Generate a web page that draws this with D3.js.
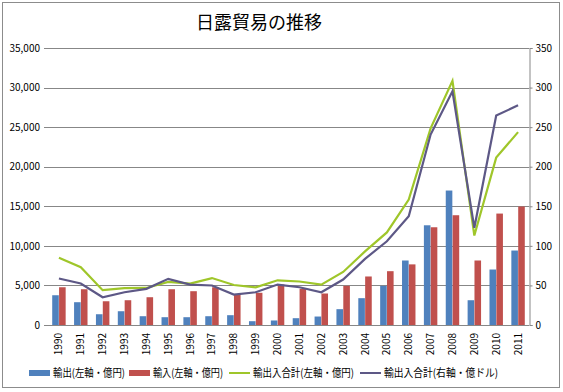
<!DOCTYPE html>
<html>
<head>
<meta charset="utf-8">
<script src="https://cdn.jsdelivr.net/npm/d3@7"></script>
<style>
  body { margin: 0; background: #fff; }
  text { font-family: "Noto Sans CJK JP", "DejaVu Sans", sans-serif; fill: #000; }
</style>
</head>
<body>
<div id="chart"></div>
<script>
// values
var years = ["1990","1991","1992","1993","1994","1995","1996","1997","1998","1999","2000",
             "2001","2002","2003","2004","2005","2006","2007","2008","2009","2010","2011"];
var exportsYen = [3760, 2880, 1360, 1740, 1110, 985, 985, 1110, 1240, 480, 570,
                  860, 1070, 2000, 3390, 4950, 8150, 12600, 16990, 3130, 7010, 9410];
var importsYen = [4770, 4520, 3000, 3130, 3510, 4520, 4270, 4770, 3850, 4070, 5120,
                  4570, 3980, 4950, 6130, 6800, 7660, 12350, 13870, 8150, 14080, 14970];
var totalYen = [8490, 7300, 4400, 4650, 4680, 5450, 5220, 5930, 5050, 4750, 5650,
                5500, 5100, 6700, 9300, 11700, 15850, 24850, 30850, 11300, 21150, 24370];
var totalUsd = [58.7, 52.4, 35.1, 41.4, 45.7, 58.3, 51.1, 49.9, 38.5, 41.4, 51.1,
                47.7, 41.4, 57.5, 83.6, 105.8, 137.4, 240.6, 295.3, 122.8, 264.6, 277.6];
var leftTicks = [0, 5000, 10000, 15000, 20000, 25000, 30000, 35000];
var rightTicks = [0, 50, 100, 150, 200, 250, 300, 350];
var legendNames = ["輸出(左軸・億円)", "輸入(左軸・億円)", "輸出入合計(左軸・億円)", "輸出入合計(右軸・億ドル)"];
var colors = ["#4f81bd", "#c0504d", "#9fc62a", "#5d5886"];

var W = 563, H = 392;
var margin = { top: 48, right: 34, bottom: 67, left: 48 };
var width = W - margin.left - margin.right,
    height = H - margin.top - margin.bottom;

var root = d3.select("#chart").append("svg")
    .attr("width", W)
    .attr("height", H);

// outer frame
root.append("rect")
    .attr("x", 2.5).attr("y", 2.5)
    .attr("width", 557).attr("height", 385)
    .attr("fill", "#fff")
    .attr("stroke", "#8c8c8c")
    .attr("stroke-width", 1);

root.append("text")
    .attr("x", 259).attr("y", 29)
    .attr("text-anchor", "middle")
    .style("font-size", "18px")
    .text("日露貿易の推移");

var svg = root.append("g")
    .attr("transform", "translate(" + margin.left + "," + margin.top + ")");

// scales
var x = d3.scaleBand().domain(years).range([0, width]).paddingInner(0.36).paddingOuter(0.18);
var xSub = d3.scaleBand().domain([0, 1]).range([0, x.bandwidth()]).padding(0.04);
var yL = d3.scaleLinear().domain([0, 35000]).range([height, 0]);
var yR = d3.scaleLinear().domain([0, 350]).range([height, 0]);

// grid lines
svg.append("g")
    .selectAll("line")
    .data(leftTicks)
    .enter().append("line")
    .attr("x1", -4).attr("x2", width)
    .attr("y1", d => Math.round(yL(d)) + 0.5)
    .attr("y2", d => Math.round(yL(d)) + 0.5)
    .attr("stroke", "#878787");

// left axis labels
var yAxisL = d3.axisLeft(yL).tickValues(leftTicks).tickSize(0).tickPadding(8)
    .tickFormat(d3.format(","));
var gL = svg.append("g").call(yAxisL);
gL.select(".domain").remove();
gL.selectAll("text").style("font-size", "10px").attr("font-family", null);

// right axis
var yAxisR = d3.axisRight(yR).tickValues(rightTicks).tickSize(3).tickPadding(3);
var gR = svg.append("g")
    .attr("transform", "translate(" + (width + 0.5) + ",0)")
    .call(yAxisR);
gR.select(".domain").attr("stroke", "#878787");
gR.selectAll("line").attr("stroke", "#878787");
gR.selectAll("text").style("font-size", "10px").attr("font-family", null);

// bars
var bars = svg.append("g");
[exportsYen, importsYen].forEach(function(series, i) {
    bars.selectAll(".bar" + i)
        .data(series)
        .enter().append("rect")
        .attr("class", "bar" + i)
        .attr("x", (d, j) => x(years[j]) + xSub(i))
        .attr("width", xSub.bandwidth())
        .attr("y", d => yL(d))
        .attr("height", d => height - yL(d))
        .attr("fill", colors[i]);
});

// lines
var lineL = d3.line().x((d, j) => x(years[j]) + x.bandwidth() / 2).y(d => yL(d));
var lineR = d3.line().x((d, j) => x(years[j]) + x.bandwidth() / 2).y(d => yR(d));

svg.append("path")
    .datum(totalYen)
    .attr("d", lineL)
    .attr("fill", "none")
    .attr("stroke", colors[2])
    .attr("stroke-width", 2.2);

svg.append("path")
    .datum(totalUsd)
    .attr("d", lineR)
    .attr("fill", "none")
    .attr("stroke", colors[3])
    .attr("stroke-width", 2.2);

// x axis labels
var xAxis = d3.axisBottom(x).tickSize(0);
var gX = svg.append("g")
    .attr("transform", "translate(0," + height + ")")
    .call(xAxis);
gX.select(".domain").remove();
gX.selectAll("text")
    .style("font-size", "10px")
    .attr("font-family", null)
    .attr("text-anchor", "end")
    .attr("dy", "0.35em")
    .attr("transform", "translate(0,8) rotate(-90)")
    .attr("x", 0).attr("y", 0);

// legend
var legendX = [29, 129, 229, 360];
var legendLen = [72, 70, 101, 114];
var leg = root.append("g").attr("transform", "translate(0,373)");
legendNames.forEach(function(name, i) {
    var g = leg.append("g").attr("transform", "translate(" + legendX[i] + ",0)");
    if (i < 2) {
        g.append("rect").attr("x", 0).attr("y", -3).attr("width", 21).attr("height", 6)
            .attr("fill", colors[i]);
    } else {
        g.append("line").attr("x1", 0).attr("x2", 21).attr("y1", 0).attr("y2", 0)
            .attr("stroke", colors[i]).attr("stroke-width", 2);
    }
    g.append("text")
        .attr("x", 24).attr("y", 0).attr("dy", "0.35em")
        .attr("textLength", legendLen[i])
        .attr("lengthAdjust", "spacingAndGlyphs")
        .style("font-size", "11px")
        .text(name);
});
</script>
</body>
</html>
